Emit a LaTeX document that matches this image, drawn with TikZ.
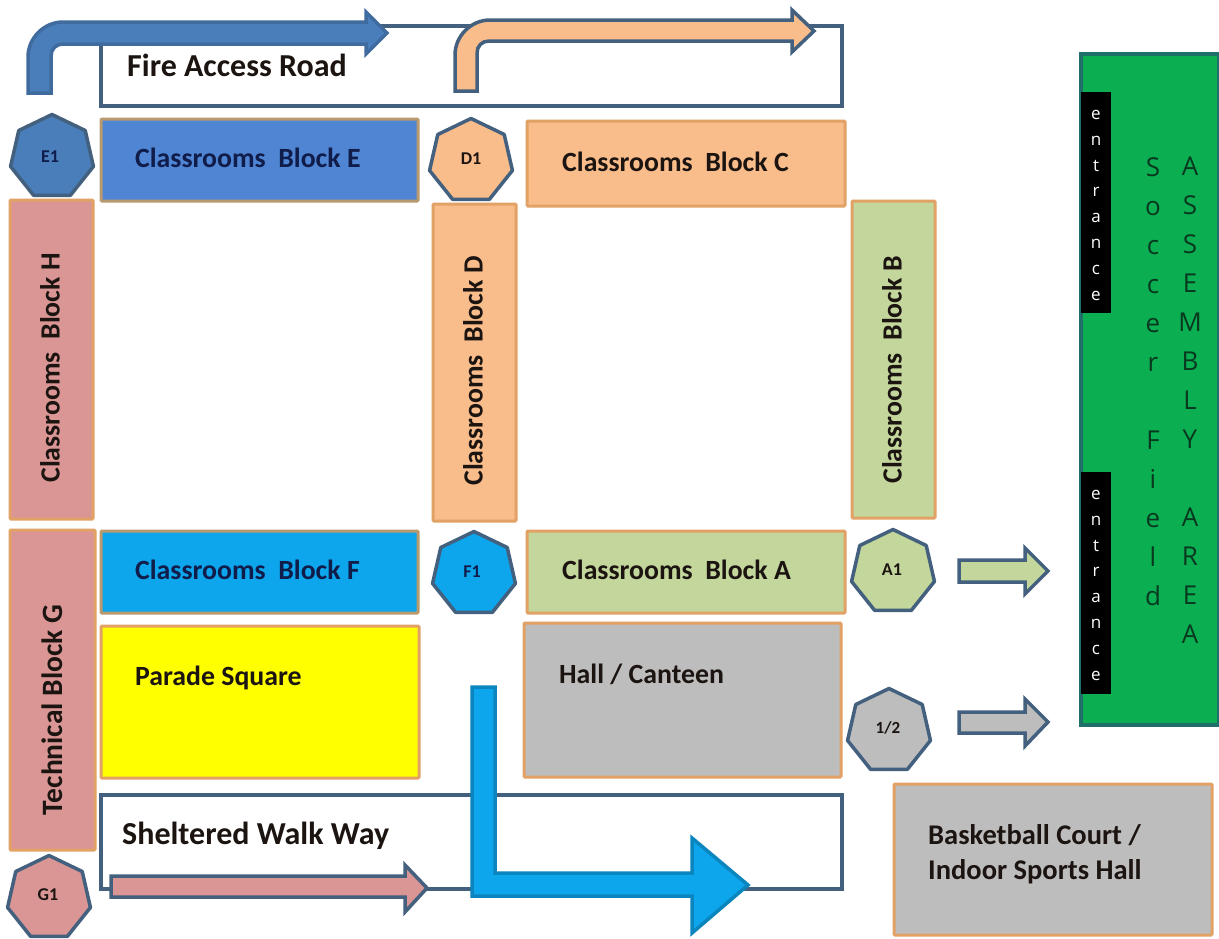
\documentclass[tikz,border=0pt]{standalone}
\usepackage{fontspec}
\setmainfont{Carlito}
\newfontfamily\fieldfont{Open Sans}
\usetikzlibrary{shapes.geometric}
\definecolor{edgeO}{HTML}{E2A165}
\definecolor{edgeB}{HTML}{43607F}
\definecolor{edgeE}{HTML}{B99A6F}
\definecolor{fillE}{HTML}{4F85D2}
\definecolor{fillBlue}{HTML}{4A7EBB}
\definecolor{fillO}{HTML}{F9BC8B}
\definecolor{fillP}{HTML}{D99694}
\definecolor{fillG}{HTML}{C3D69B}
\definecolor{fillS}{HTML}{0DA6EC}
\definecolor{fillGr}{HTML}{BDBDBD}
\definecolor{fillY}{RGB}{255,255,0}
\definecolor{fieldG}{HTML}{0BAE50}
\definecolor{fieldE}{HTML}{1F6F6A}
\definecolor{txtNavy}{HTML}{101C4A}
\definecolor{txtDark}{HTML}{1B1410}
\definecolor{txtField}{HTML}{08381F}
\tikzset{
  blk/.style={draw=edgeO,line width=3pt,rounded corners=1pt,inner sep=0pt},
  road/.style={draw=edgeB,line width=3.5pt,fill=white,inner sep=0pt},
  hept/.style={regular polygon,regular polygon sides=7,draw=edgeB,line width=3.5pt,minimum size=85pt,inner sep=0pt,line join=round},
  arr/.style={draw=edgeB,line width=3.5pt,line join=miter},
  lab/.style={font=\fontsize{27.8}{32}\selectfont\bfseries,text=txtDark,inner sep=0pt},
  hlab/.style={font=\fontsize{18}{20}\selectfont\bfseries,text=txtDark,inner sep=0pt},
  vtxt/.style={font=\fieldfont\fontsize{26}{39}\selectfont,text=txtField,align=center,inner sep=0pt,anchor=north},
  entr/.style={font=\fieldfont\fontsize{17}{25.8}\selectfont,text=white,align=center,inner sep=0pt,anchor=north}
}
\newcommand{\blk}[6]{\node[#6,minimum width={(#4-#2)*1pt},minimum height={(#5-#3)*1pt}] (#1) at ({(#2+#4)/2},{(#3+#5)/2}) {};}
\begin{document}
\begin{tikzpicture}[x=1pt,y=-1pt]
\useasboundingbox (0,0) rectangle (1219,938);
\fill[white] (0,0) rectangle (1219,938);
% roads
\blk{fireRoad}{101}{26}{842}{106}{road}
\blk{walkWay}{101}{795}{842}{889}{road}
% blocks
\blk{blockE}{101}{119}{418}{201}{blk,fill=fillE,draw=edgeE}
\blk{blockC}{527}{121}{845}{206}{blk,fill=fillO}
\blk{blockH}{10}{200}{93}{519}{blk,fill=fillP}
\blk{blockD}{433}{204}{516}{521}{blk,fill=fillO}
\blk{blockB}{852}{201}{935}{518}{blk,fill=fillG}
\blk{blockF}{101}{531}{418}{613}{blk,fill=fillS,draw=edgeE}
\blk{blockA}{527}{531}{845}{613}{blk,fill=fillG}
\blk{blockG}{10}{530}{95}{850}{blk,fill=fillP}
\blk{parade}{101}{626}{419}{778}{blk,fill=fillY}
\blk{hall}{524}{623}{841}{777}{blk,fill=fillGr}
\blk{court}{894}{784}{1212}{935}{blk,fill=fillGr}
% field
\blk{field}{1081}{54}{1219}{725}{road,fill=fieldG,draw=fieldE}
\node[fill=black,inner sep=0pt,minimum width=30pt,minimum height=221pt] (entrA) at (1096,202.5) {};
\node[fill=black,inner sep=0pt,minimum width=30pt,minimum height=222pt] (entrB) at (1096,583) {};
\node[entr] (entrAt) at (1096,110) {e\\n\\t\\r\\a\\n\\c\\e};
\node[entr] (entrBt) at (1096,490) {e\\n\\t\\r\\a\\n\\c\\e};
\node[vtxt] (soccer) at (1153,157) {S\\o\\c\\c\\e\\r\\~\\F\\i\\e\\l\\d};
\node[vtxt] (assembly) at (1190,157) {A\\S\\S\\E\\M\\B\\L\\Y\\~\\A\\R\\E\\A};
% heptagons
\node[hept,fill=fillBlue] (E1) at (52,157) {};
\node[hept,fill=fillO] (D1) at (471,161) {};
\node[hept,fill=fillS] (F1) at (474,574) {};
\node[hept,fill=fillG] (A1) at (893,572) {};
\node[hept,fill=fillGr] (half) at (889,731) {};
\node[hept,fill=fillP] (G1) at (49,898) {};
\node[hlab,text=txtNavy] (E1t) at (50,157) {E1};
\node[hlab] (D1t) at (471,159) {D1};
\node[hlab,text=txtNavy] (F1t) at (472,572) {F1};
\node[hlab] (A1t) at (892,570) {A1};
\node[hlab,font=\fontsize{17}{20}\selectfont\bfseries] (halft) at (888,728) {1/2};
\node[hlab] (G1t) at (48,895) {G1};
% block arrows
\draw[arr,fill=fillBlue,draw=fillBlue!85!black] (28,93) -- (28,57) .. controls (28,38) and (44,22) .. (63,22) -- (366,22) -- (366,12) -- (387,33) -- (366,54) -- (366,44) -- (63,44) .. controls (56,44) and (51,49) .. (51,56) -- (51,93) -- cycle;
\draw[arr,fill=fillO] (455,91) -- (455,55) .. controls (455,36) and (471,20) .. (490,20) -- (792,20) -- (792,10) -- (814,31) -- (792,52) -- (792,41) -- (489,41) .. controls (482,41) and (477,46) .. (477,53) -- (477,91) -- cycle;
\draw[arr,fill=fillP] (111,876) -- (405,876) -- (405,865) -- (427,888) -- (405,912) -- (405,897) -- (111,897) -- cycle;
\draw[arr,fill=fillS,draw=fillS!80!black] (472,687) -- (495,687) -- (495,873) -- (692,873) -- (692,838) -- (748,885) -- (692,933) -- (692,896) -- (472,896) -- cycle;
\draw[arr,fill=fillG] (959,560) -- (1025,560) -- (1025,548) -- (1048,571) -- (1025,594) -- (1025,582) -- (959,582) -- cycle;
\draw[arr,fill=fillGr] (959,712) -- (1025,712) -- (1025,699) -- (1048,722) -- (1025,746) -- (1025,733) -- (959,733) -- cycle;
% labels
\node[lab,anchor=west,font=\fontsize{32}{36}\selectfont\bfseries] (fireT) at (127,65) {Fire Access Road};
\node[lab,anchor=west,text=txtNavy] (eT) at (135,158) {Classrooms\ \ Block E};
\node[lab,anchor=west] (cT) at (562,162) {Classrooms\ \ Block C};
\node[lab,anchor=west,text=txtNavy] (fT) at (135,570) {Classrooms\ \ Block F};
\node[lab,anchor=west] (aT) at (562,570) {Classrooms\ \ Block A};
\node[lab,rotate=90] (hT) at (50,368) {Classrooms\ \ Block H};
\node[lab,rotate=90] (dT) at (473,371) {Classrooms\ \ Block D};
\node[lab,rotate=90] (bT) at (892,370) {Classrooms\ \ Block B};
\node[lab,rotate=90,font=\fontsize{29.5}{32}\selectfont\bfseries] (gT) at (52,710) {Technical Block G};
\node[lab,anchor=west] (pT) at (135,678) {Parade Square};
\node[lab,anchor=west] (hallT) at (559,674) {Hall / Canteen};
\node[lab,anchor=west,font=\fontsize{32}{36}\selectfont\bfseries] (swT) at (122,836) {Sheltered Walk Way};
\node[lab,anchor=west,align=left,font=\fontsize{28.5}{35}\selectfont\bfseries] (courtT) at (928,854) {Basketball Court /\\Indoor Sports Hall};
\end{tikzpicture}
\end{document}
